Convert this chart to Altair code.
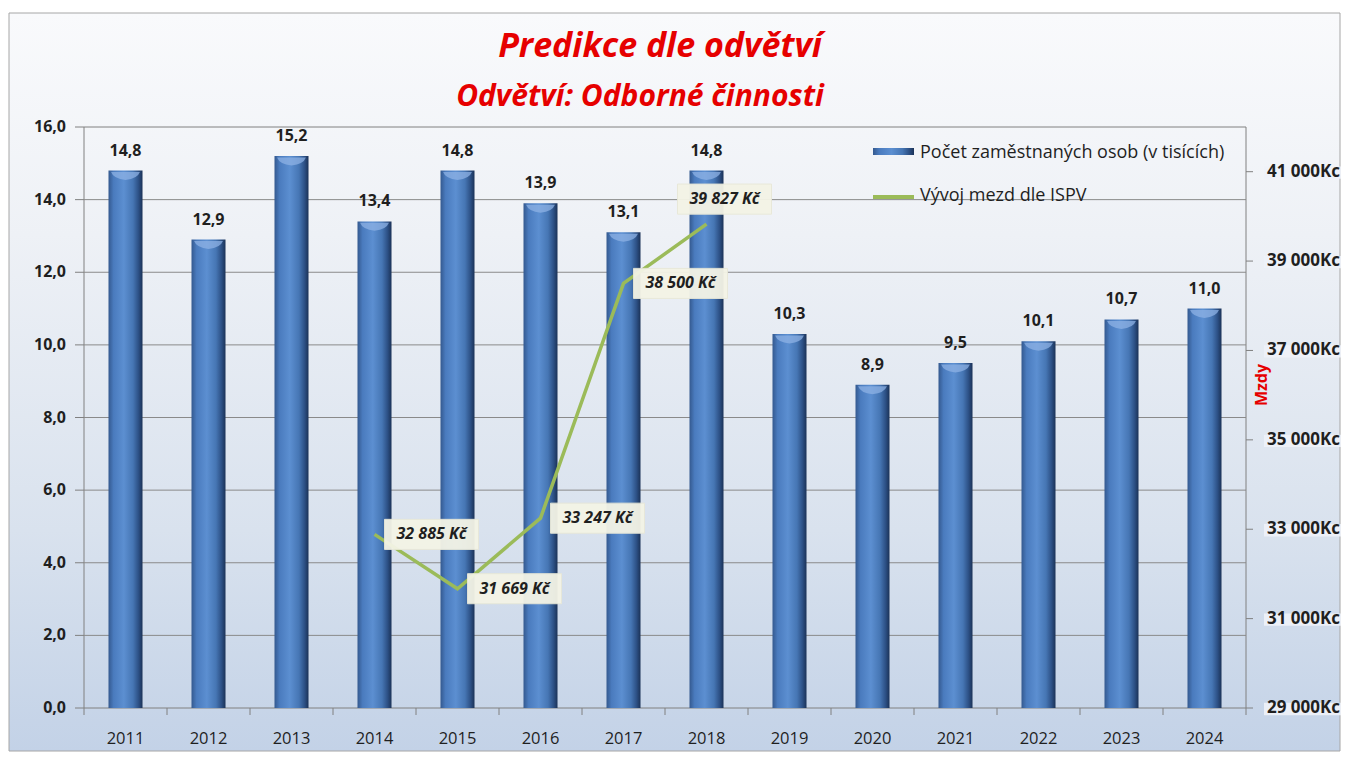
import altair as alt
import pandas as pd

# ---- data ----
years = ['2011', '2012', '2013', '2014', '2015', '2016', '2017',
         '2018', '2019', '2020', '2021', '2022', '2023', '2024']
employees = [14.8, 12.9, 15.2, 13.4, 14.8, 13.9, 13.1,
             14.8, 10.3, 8.9, 9.5, 10.1, 10.7, 11.0]
wage_years = ['2014', '2015', '2016', '2017', '2018']
wages = [32885, 31669, 33247, 38500, 39827]
left_ticks = [0, 2, 4, 6, 8, 10, 12, 14, 16]
right_ticks = [29000, 31000, 33000, 35000, 37000, 39000, 41000]

title_text = "Predikce dle odvětví"
subtitle_text = "Odvětví: Odborné činnosti"
bar_series = "Počet zaměstnaných osob (v tisících)"
line_series = "Vývoj mezd dle ISPV"
right_title = "Mzdy"

bars_df = pd.DataFrame({"year": years, "count": employees})
wage_df = pd.DataFrame({"year": wage_years, "wage": wages})
lt_df = pd.DataFrame({"count": left_ticks})
grid_df = pd.DataFrame({"count": left_ticks[1:-1]})
rt_df = pd.DataFrame({"wage": right_ticks})
one = pd.DataFrame({"a": [0]})

FONT = "Open Sans"
W, H = 1162, 581
RED = "#E60000"
TXT = "#1F1F1F"
AXC = "#808080"

bg_grad = alt.LinearGradient(
    gradient="linear", x1=0, x2=0, y1=0, y2=1,
    stops=[alt.GradientStop(color="#F9FAFC", offset=0),
           alt.GradientStop(color="#EEF1F6", offset=0.3),
           alt.GradientStop(color="#D9E2EE", offset=0.7),
           alt.GradientStop(color="#C3D2E7", offset=1)])

bar_grad = alt.LinearGradient(
    gradient="linear", x1=0, x2=1, y1=0, y2=0,
    stops=[alt.GradientStop(color="#34598F", offset=0),
           alt.GradientStop(color="#4A7BBE", offset=0.15),
           alt.GradientStop(color="#5C8FD1", offset=0.45),
           alt.GradientStop(color="#4676B4", offset=0.72),
           alt.GradientStop(color="#2D5186", offset=0.88),
           alt.GradientStop(color="#1B3257", offset=1)])

x_scale = alt.Scale(domain=years, paddingInner=0, paddingOuter=0)
x_c = alt.X("year:N", scale=x_scale, axis=None)
x_start = alt.X("year:N", scale=x_scale, axis=None, bandPosition=0)
x_end = alt.X("year:N", scale=x_scale, axis=None, bandPosition=1)

y_scale_l = alt.Scale(domain=[0, 16], nice=False)
y_l = alt.Y("count:Q", scale=y_scale_l, axis=None)
y_scale_r = alt.Scale(domain=[29000, 42000], nice=False)
y_r = alt.Y("wage:Q", scale=y_scale_r, axis=None)

# background frame and plot border
bg = alt.Chart(one).mark_rect(color=bg_grad, stroke="#A6A6A6", strokeWidth=1).encode(
    x=alt.value(-75), x2=alt.value(1256), y=alt.value(-114), y2=alt.value(624))
border = alt.Chart(one).mark_rect(filled=False, stroke=AXC, strokeWidth=1).encode(
    x=alt.value(0), x2=alt.value(W), y=alt.value(0), y2=alt.value(H))

# titles
title_mark = alt.Chart(one).mark_text(
    text=title_text, font=FONT, fontSize=34, fontWeight="bold", fontStyle="italic",
    color=RED, align="center", baseline="alphabetic").encode(
    x=alt.value(576), y=alt.value(-70))
subtitle_mark = alt.Chart(one).mark_text(
    text=subtitle_text, font=FONT, fontSize=30, fontWeight="bold", fontStyle="italic",
    color=RED, align="center", baseline="alphabetic").encode(
    x=alt.value(556), y=alt.value(-21))

# left axis (drawn from its scale)
grid = alt.Chart(grid_df).mark_rule(color="#8A8A8A", strokeWidth=1).encode(y=y_l)
l_ticks = alt.Chart(lt_df).mark_rule(color=AXC, strokeWidth=1).encode(
    y=y_l, x=alt.value(-9), x2=alt.value(0))
l_labels = alt.Chart(lt_df).mark_text(
    font=FONT, fontSize=16, fontWeight="bold", color=TXT, align="right", baseline="middle"
).transform_calculate(lbl="replace(format(datum.count, '.1f'), '.', ',')").encode(
    y=y_l, x=alt.value(-18), text="lbl:N")

# x axis
x_ticks = alt.Chart(bars_df).mark_rule(color=AXC, strokeWidth=1).encode(
    x=x_start, y=alt.value(H), y2=alt.value(H + 7))
x_tick_end = alt.Chart(bars_df).transform_filter("datum.year == '2024'").mark_rule(
    color=AXC, strokeWidth=1).encode(x=x_end, y=alt.value(H), y2=alt.value(H + 7))
x_labels = alt.Chart(bars_df).mark_text(
    font=FONT, fontSize=16.5, color=TXT, align="center", baseline="middle").encode(
    x=x_c, y=alt.value(H + 31), text="year:N")

bars = alt.Chart(bars_df).mark_bar(color=bar_grad, size=34).encode(x=x_c, y=y_l)
bar_caps = alt.Chart(bars_df).mark_point(
    shape="M-0.85,-0.15L0.85,-0.15Q0.7,0.25 0,0.32Q-0.7,0.25 -0.85,-0.15Z",
    size=34 * 34, filled=True, fill="#8DB2E4", opacity=0.75, yOffset=4).encode(x=x_c, y=y_l)
bar_labels = alt.Chart(bars_df).mark_text(
    font=FONT, fontSize=16, fontWeight="bold", color=TXT, baseline="alphabetic", dy=-15
).transform_calculate(lbl="replace(format(datum.count, '.1f'), '.', ',')").encode(
    x=x_c, y=y_l, text="lbl:N")

# legend (manual)
leg_bar = alt.Chart(one).mark_rect(color=bar_grad).encode(
    x=alt.value(789), x2=alt.value(830), y=alt.value(21), y2=alt.value(28))
leg_bar_t = alt.Chart(one).mark_text(
    text=bar_series, font=FONT, fontSize=18, color=TXT, align="left", baseline="middle").encode(
    x=alt.value(836), y=alt.value(26))
leg_line = alt.Chart(one).mark_rule(color="#9BBB59", strokeWidth=4).encode(
    x=alt.value(789), x2=alt.value(830), y=alt.value(70))
leg_line_t = alt.Chart(one).mark_text(
    text=line_series, font=FONT, fontSize=18, color=TXT, align="left", baseline="middle").encode(
    x=alt.value(836), y=alt.value(69))

left = alt.layer(bg, border, title_mark, subtitle_mark, grid, l_ticks, l_labels,
                 x_ticks, x_tick_end, x_labels, bars, bar_caps, bar_labels,
                 leg_bar, leg_bar_t, leg_line, leg_line_t)

# right axis (drawn from its scale)
r_ticks = alt.Chart(rt_df).mark_rule(color=AXC, strokeWidth=1).encode(
    y=y_r, x=alt.value(W), x2=alt.value(W + 7))
r_boxes = alt.Chart(rt_df).mark_point(
    shape="M-1,-0.14H1V0.14H-1Z", size=88 * 88, filled=True, fill="#EEF2F8",
    opacity=0.9, yOffset=1).encode(y=y_r, x=alt.value(W + 62))
r_labels = alt.Chart(rt_df).mark_text(
    font=FONT, fontSize=17, fontWeight="bold", color=TXT, align="left", baseline="middle"
).transform_calculate(lbl="replace(format(datum.wage, ',d'), ',', ' ') + 'Kc'").encode(
    y=y_r, x=alt.value(W + 21), text="lbl:N")
r_title = alt.Chart(one).mark_text(
    text=right_title, font=FONT, fontSize=16, fontWeight="bold", color=RED,
    angle=270, align="center", baseline="middle").encode(
    x=alt.value(W + 16), y=alt.value(258))

line = alt.Chart(wage_df).mark_line(color="#9BBB59", strokeWidth=3.5).encode(x=x_c, y=y_r)

lbl_calc = "replace(format(datum.wage, ',d'), ',', ' ') + ' Kč'"
box_shape = "M-1,-0.32H1V0.32H-1Z"


def wage_labels(cond, xo, yo):
    base = alt.Chart(wage_df).transform_filter(cond).transform_calculate(lbl=lbl_calc)
    box = base.mark_point(shape=box_shape, size=94 * 94, filled=True, fill="#F4F4E6",
                          opacity=0.95, stroke="#E8E8D8", strokeWidth=1,
                          xOffset=xo, yOffset=yo).encode(x=x_c, y=y_r)
    txt = base.mark_text(font=FONT, fontSize=16, fontWeight="bold", fontStyle="italic",
                         color=TXT, align="center", baseline="middle",
                         xOffset=xo, yOffset=yo).encode(x=x_c, y=y_r, text="lbl:N")
    return [box, txt]


right = alt.layer(r_ticks, r_boxes, r_labels, r_title, line,
                  *wage_labels("datum.year != '2018'", 57, 0),
                  *wage_labels("datum.year == '2018'", 18, -25))

chart = alt.layer(left, right).resolve_scale(y="independent").properties(
    width=W, height=H,
    padding={"left": 76, "top": 119, "right": 95, "bottom": 44},
    autosize=alt.AutoSizeParams(type="none"),
    background="white"
).configure_view(stroke=None, fill=None)

chart.save("out.html", embed_options={"renderer": "svg", "actions": False})
